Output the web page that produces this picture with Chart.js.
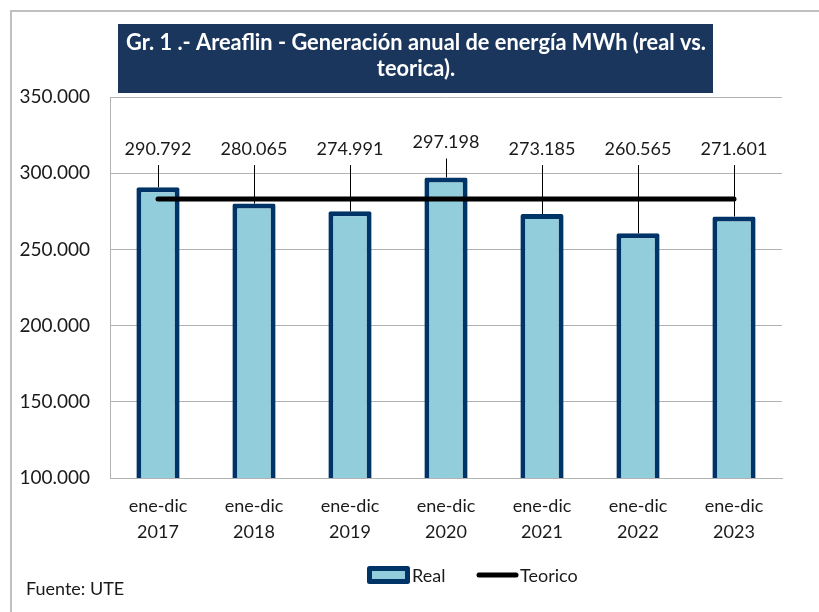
<!DOCTYPE html>
<html>
<head>
<meta charset="utf-8">
<script src="https://cdn.jsdelivr.net/npm/chart.js@4.4.1/dist/chart.umd.min.js"></script>
<style>
    body { margin: 0; background: #fff; }
    #wrap { width: 819px; height: 612px; }
</style>
</head>
<body>
<div id="wrap"><canvas id="chart" width="819" height="612"></canvas></div>
<script>
const periods = ['ene-dic', 'ene-dic', 'ene-dic', 'ene-dic', 'ene-dic', 'ene-dic', 'ene-dic'];
const years = ['2017', '2018', '2019', '2020', '2021', '2022', '2023'];
const realValues = [290792, 280065, 274991, 297198, 273185, 260565, 271601];
const teoricoValues = [283000, 283000, 283000, 283000, 283000, 283000, 283000];
const yMin = 100000;
const yMax = 350000;
const yStep = 50000;

const titleLines = ['Gr. 1 .- Areaflin - Generación anual de energía MWh (real vs.', 'teorica).'];
const sourceText = 'Fuente: UTE';

const navy = '#003366';
const barFill = '#92cddc';
const titleBg = '#1b365d';
const gridGray = '#b3b3b3';
const textColor = '#1a1a1a';
const fontFamily = 'Lato, "Open Sans", sans-serif';

function formatThousands (n) {
    return String(Math.round(n)).replace(/\B(?=(\d{3})+(?!\d))/g, '.');
}

const labels = periods.map((p, i) => [p, years[i]]);

// frame + title box behind everything
const framePlugin = {
    id: 'frame',
    beforeDraw (chart) {
        const ctx = chart.ctx;
        ctx.save();
        ctx.fillStyle = '#fff';
        ctx.fillRect(0, 0, chart.width, chart.height);

        ctx.strokeStyle = '#c0c0c0';
        ctx.lineWidth = 2;
        ctx.beginPath();
        ctx.moveTo(11, chart.height);
        ctx.lineTo(11, 11);
        ctx.lineTo(chart.width, 11);
        ctx.stroke();
        ctx.restore();
    },
    afterDraw (chart) {
        const ctx = chart.ctx;
        ctx.save();
        ctx.fillStyle = titleBg;
        ctx.fillRect(118, 24, 595, 69);

        ctx.fillStyle = '#fff';
        ctx.font = 'bold 22px ' + fontFamily;
        ctx.textAlign = 'center';
        ctx.textBaseline = 'alphabetic';
        const w = ctx.measureText(titleLines[0]).width;
        const sx = Math.min(1, 580 / w);
        ctx.translate(416, 0);
        ctx.scale(sx, 1);
        ctx.fillText(titleLines[0], 0, 50);
        ctx.fillText(titleLines[1], 0, 76);
        ctx.restore();

        // legend
        ctx.save();
        ctx.lineJoin = 'round';
        ctx.fillStyle = barFill;
        ctx.fillRect(369.5, 568.5, 38, 13);
        ctx.strokeStyle = navy;
        ctx.lineWidth = 5;
        ctx.strokeRect(369.5, 568.5, 38, 13);

        ctx.strokeStyle = '#000';
        ctx.lineCap = 'round';
        ctx.beginPath();
        ctx.moveTo(479, 575);
        ctx.lineTo(516, 575);
        ctx.stroke();

        ctx.fillStyle = textColor;
        ctx.font = '18px ' + fontFamily;
        ctx.textAlign = 'left';
        ctx.textBaseline = 'alphabetic';
        ctx.fillText(chart.data.datasets[1].label, 412, 582);
        ctx.fillText(chart.data.datasets[0].label, 520, 582);

        ctx.fillText(sourceText, 26, 595);
        ctx.restore();
    }
};

// value labels with leader lines
const valueLabelPlugin = {
    id: 'valueLabels',
    afterDatasetsDraw (chart) {
        const ctx = chart.ctx;
        const meta = chart.getDatasetMeta(1);
        const lineY = chart.scales.y.getPixelForValue(teoricoValues[0]);
        ctx.save();
        ctx.font = '18px ' + fontFamily;
        ctx.fillStyle = textColor;
        ctx.textAlign = 'center';
        ctx.textBaseline = 'middle';
        ctx.strokeStyle = '#000';
        ctx.lineWidth = 1;
        meta.data.forEach((bar, i) => {
            const top = bar.y;
            const ly = Math.min(top - 35, lineY - 50);
            ctx.fillText(formatThousands(realValues[i]), bar.x, ly);
            ctx.beginPath();
            ctx.moveTo(Math.round(bar.x) + 0.5, ly + 16);
            ctx.lineTo(Math.round(bar.x) + 0.5, top);
            ctx.stroke();
        });
        ctx.restore();
    }
};

const ctx = document.getElementById('chart').getContext('2d');

new Chart(ctx, {
    data: {
        labels: labels,
        datasets: [{
            type: 'line',
            label: 'Teorico',
            data: teoricoValues,
            borderColor: '#000',
            borderWidth: 5,
            borderCapStyle: 'round',
            pointRadius: 0,
            fill: false,
            order: 0
        }, {
            type: 'bar',
            label: 'Real',
            data: realValues,
            backgroundColor: barFill,
            borderColor: navy,
            borderWidth: 5,
            borderSkipped: false,
            borderRadius: 2,
            barPercentage: 0.45,
            categoryPercentage: 1,
            order: 1
        }]
    },
    options: {
        responsive: false,
        animation: false,
        layout: {
            padding: { top: 97, right: 37, bottom: 56, left: 20 }
        },
        plugins: {
            legend: { display: false },
            tooltip: { enabled: false }
        },
        scales: {
            x: {
                grid: { display: false, drawTicks: false },
                border: { display: true, color: gridGray, width: 1 },
                ticks: {
                    color: textColor,
                    padding: 16,
                    font: { family: fontFamily, size: 18, lineHeight: 1.4 }
                },
                afterFit (scale) { scale.height = 78; }
            },
            y: {
                min: yMin,
                max: yMax,
                grid: { color: gridGray, lineWidth: 1, drawTicks: false },
                border: { display: true, color: gridGray, width: 1 },
                ticks: {
                    stepSize: yStep,
                    color: textColor,
                    padding: 20,
                    font: { family: fontFamily, size: 19 },
                    callback: v => formatThousands(v)
                },
                afterFit (scale) { scale.width = 90; }
            }
        }
    },
    plugins: [framePlugin, valueLabelPlugin]
});
</script>
</body>
</html>
